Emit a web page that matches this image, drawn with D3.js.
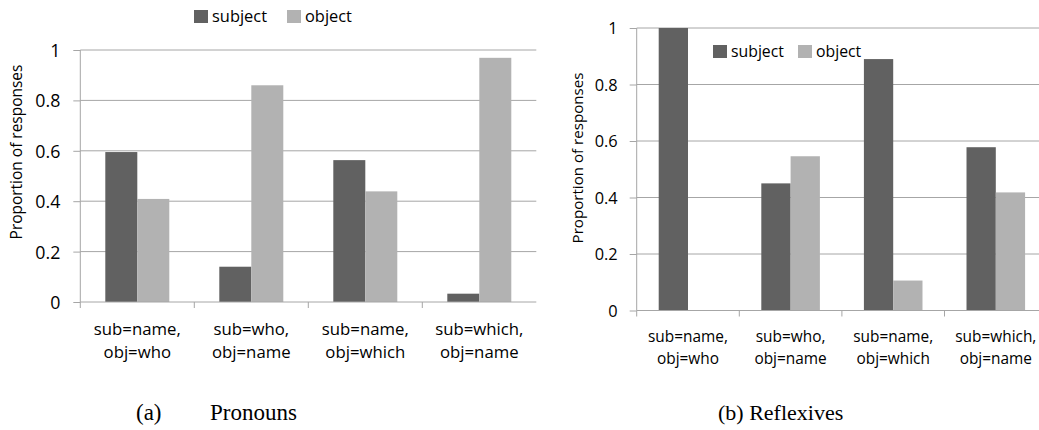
<!DOCTYPE html>
<html><head><meta charset="utf-8">
<script src="https://cdn.jsdelivr.net/npm/d3@7"></script>
<style>
body{margin:0;background:#fff;}
svg{display:block;}
text{font-family:"Open Sans",sans-serif;fill:#000;}
</style></head>
<body>
<svg id="chart" width="1039" height="430"></svg>
<script>
const categories = [["sub=name,","obj=who"],["sub=who,","obj=name"],["sub=name,","obj=which"],["sub=which,","obj=name"]];
const seriesNames = ["subject","object"];
const pronounsSubject = [0.595, 0.14, 0.563, 0.033];
const pronounsObject  = [0.409, 0.86, 0.439, 0.969];
const reflexSubject = [1.0, 0.45, 0.89, 0.578];
const reflexObject  = [0.0, 0.546, 0.106, 0.418];
const yTicks = [0, 0.2, 0.4, 0.6, 0.8, 1];
const colors = {subject:"#616161", object:"#b2b2b2"};

const svg = d3.select("#chart");

// font size such that `txt` is `target` px wide
function sizeFor(txt, target, family){
  const t = svg.append("text").style("font-family", family || "'Open Sans',sans-serif").style("font-size","100px").text(txt);
  const w = t.node().getComputedTextLength();
  t.remove();
  return 100*target/w;
}

function panel(cfg){
  const g = svg.append("g");
  const n = categories.length;
  const x = d3.scaleBand().domain(d3.range(n)).range([cfg.x0, cfg.x0 + cfg.step*n])
    .paddingInner(cfg.pad).paddingOuter(cfg.pad/2);
  const xs = d3.scaleBand().domain(seriesNames).range([0, x.bandwidth()]);
  const y = d3.scaleLinear().domain([0,1]).range([cfg.y0, cfg.y1]);
  const xr = Math.min(cfg.x0 + cfg.step*n, 1039);

  const tickFont = sizeFor("0.8", cfg.tickW);
  const catFont = sizeFor("sub=name,", cfg.catW);
  const legFont = sizeFor("subject", cfg.legW);
  const titleFont = sizeFor("Proportion of responses", cfg.titleW);

  g.selectAll("line.grid").data(yTicks.filter(d=>d>0)).join("line")
    .attr("x1", cfg.x0).attr("x2", xr)
    .attr("y1", d=>y(d)).attr("y2", d=>y(d))
    .attr("stroke", "#a6a6a6").attr("stroke-width", 1);

  const data = [];
  for (let i=0;i<n;i++){
    data.push({i, s:"subject", v:cfg.sub[i]});
    data.push({i, s:"object", v:cfg.obj[i]});
  }
  g.selectAll("rect.bar").data(data).join("rect")
    .attr("x", d=>x(d.i)+xs(d.s)).attr("width", xs.bandwidth())
    .attr("y", d=>y(d.v)).attr("height", d=>y(0)-y(d.v))
    .attr("fill", d=>colors[d.s]);

  const ya = d3.axisLeft(y).tickValues(yTicks).tickFormat(d=>d3.format("")(d)).tickSize(7).tickPadding(cfg.tickPad);
  const yg = g.append("g").attr("transform", `translate(${cfg.x0},0)`).call(ya);
  yg.select(".domain").attr("stroke","#a6a6a6").attr("d", `M0,${cfg.y1}V${cfg.y0}`);
  yg.selectAll(".tick line").attr("stroke","#a6a6a6");
  yg.selectAll(".tick text").style("font-family","'Open Sans',sans-serif").style("font-size", tickFont+"px").attr("fill","#000").attr("dy","0.36em");

  g.append("line").attr("x1", cfg.x0).attr("x2", xr).attr("y1", y(0)).attr("y2", y(0)).attr("stroke","#a6a6a6");
  g.selectAll("line.sep").data(d3.range(n)).join("line")
    .attr("x1", d=>cfg.x0 + d*cfg.step).attr("x2", d=>cfg.x0 + d*cfg.step)
    .attr("y1", y(0)).attr("y2", y(0)+6).attr("stroke","#a6a6a6");

  categories.forEach((lines,i)=>{
    const cx = x(i) + x.bandwidth()/2;
    lines.forEach((t,j)=>{
      const tx = g.append("text").attr("x", cx).attr("y", y(0)+cfg.lab1 + j*cfg.labGap)
        .attr("text-anchor","middle").style("font-size", catFont+"px").text(t);
      const bb = tx.node().getBBox();
      if (bb.x + bb.width > 1037) tx.attr("x", cx - (bb.x + bb.width - 1037));
    });
  });

  g.append("text").attr("transform", `translate(${cfg.titleX},${cfg.titleY}) rotate(-90)`)
    .attr("text-anchor","middle").style("font-size", titleFont+"px").text("Proportion of responses");

  const lg = g.append("g").attr("transform", `translate(${cfg.legX},${cfg.legY})`);
  seriesNames.forEach((s,k)=>{
    const xo = cfg.legOffsets[k];
    lg.append("rect").attr("x", xo).attr("y", -12).attr("width", 14).attr("height", 13).attr("fill", colors[s]);
    lg.append("text").attr("x", xo+18).attr("y", 0).style("font-size", legFont+"px").text(s);
  });

  cfg.caption.forEach(c=>{
    g.append("text").attr("x", c.x).attr("y", 420)
      .style("font-family","'Liberation Serif','Times New Roman',serif").style("font-size", c.size+"px").text(c.t);
  });
}

panel({x0:80.3, step:114, pad:0.4386, y0:302, y1:50, tickPad:13, tickW:25, catW:87, lab1:33, labGap:23,
  sub:pronounsSubject, obj:pronounsObject, titleX:22, titleY:152, titleW:175,
  legX:194, legY:22, legOffsets:[0,93], legW:55,
  caption:[{x:136,t:"(a)",size:23},{x:210,t:"Pronouns",size:23}]});

panel({x0:636.7, step:102.6, pad:0.429, y0:310.5, y1:28, tickPad:12, tickW:23, catW:80, lab1:31, labGap:22,
  sub:reflexSubject, obj:reflexObject, titleX:583, titleY:158, titleW:171,
  legX:713, legY:57, legOffsets:[0,85], legW:53,
  caption:[{x:718,t:"(b) Reflexives",size:22}]});
</script>
</body></html>
